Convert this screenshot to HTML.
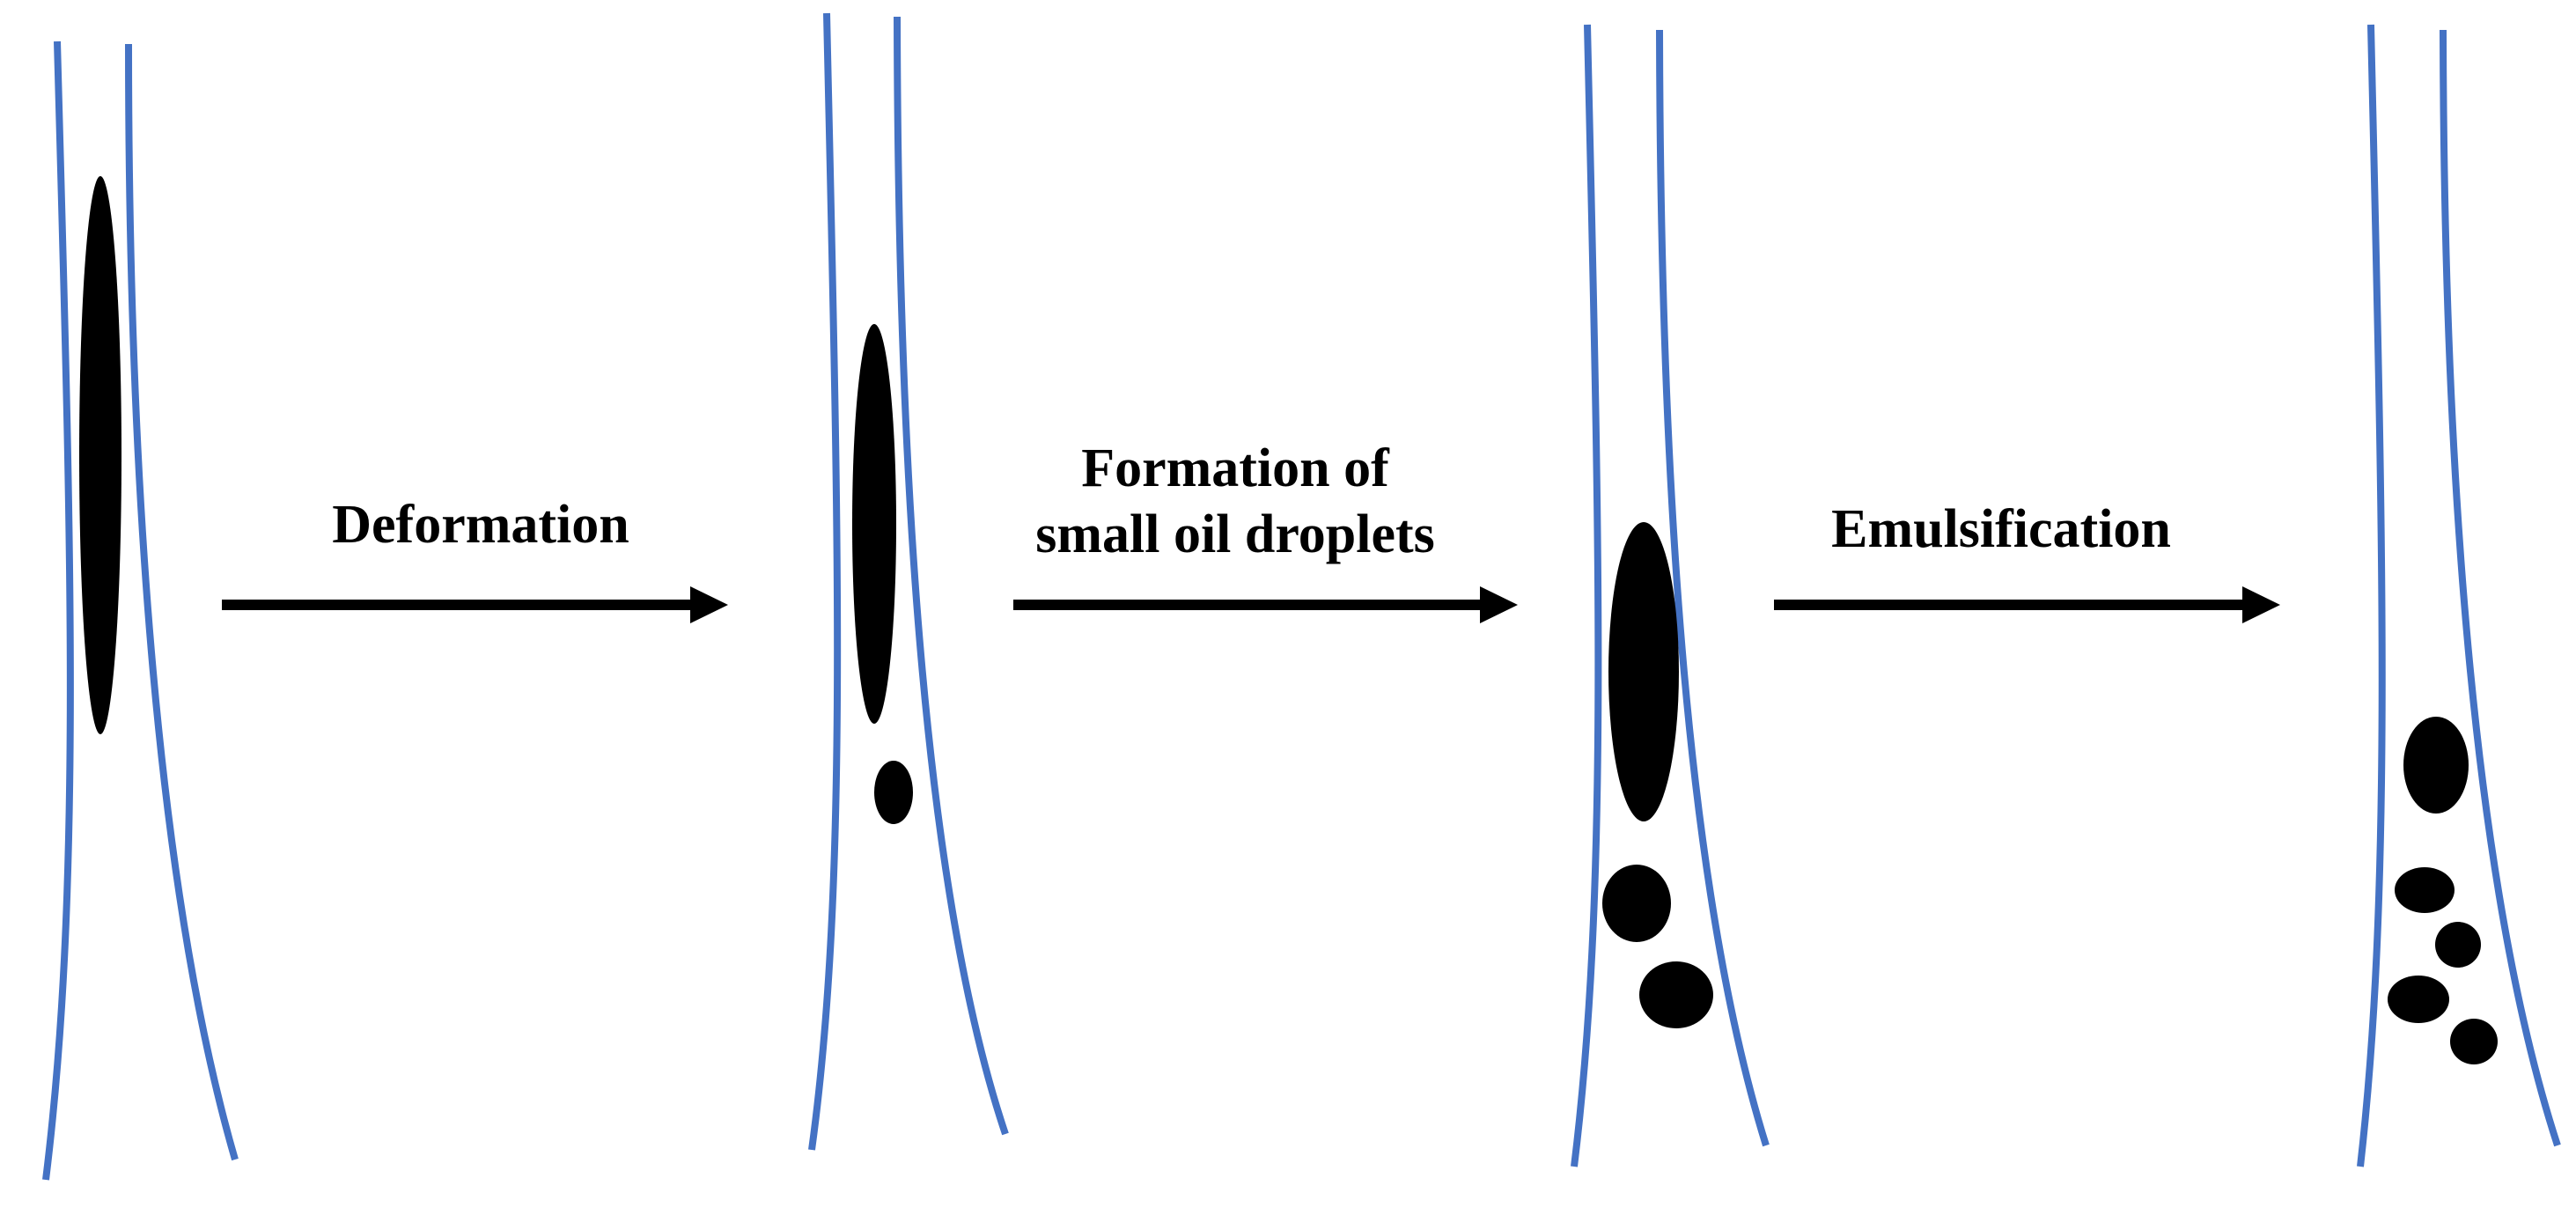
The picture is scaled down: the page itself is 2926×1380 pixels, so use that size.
<!DOCTYPE html>
<html><head><meta charset="utf-8"><style>html,body{margin:0;padding:0;background:#fff}svg{display:block}</style></head>
<body>
<svg width="2926" height="1380" viewBox="0 0 2926 1380" xmlns="http://www.w3.org/2000/svg">
<g fill="none" stroke="#4472C4" stroke-width="8">
<path d="M65,47 C80,600 94,1000 52,1340"/>
<path d="M146,50 C146,520 175,1000 267,1317"/>
<path d="M939,15 C952,600 964,1000 922,1306"/>
<path d="M1019,19 C1020,500 1045,1000 1142,1288"/>
<path d="M1803,28 C1816,600 1828,1000 1788,1325"/>
<path d="M1885,34 C1886,520 1912,1000 2006,1301"/>
<path d="M2693,28 C2706,600 2718,1000 2681,1325"/>
<path d="M2775,34 C2776,520 2807,1000 2905,1301"/>
</g>
<g fill="#000">
<ellipse cx="114" cy="517" rx="24" ry="317"/>
<ellipse cx="993" cy="595" rx="25" ry="227"/>
<ellipse cx="1015" cy="900" rx="22" ry="36"/>
<ellipse cx="1867" cy="763" rx="40" ry="170"/>
<ellipse cx="1859" cy="1026" rx="39" ry="44"/>
<ellipse cx="1904" cy="1130" rx="42" ry="38"/>
<ellipse cx="2767" cy="869" rx="37" ry="55"/>
<ellipse cx="2754" cy="1011" rx="34" ry="26"/>
<ellipse cx="2792" cy="1073" rx="26" ry="26"/>
<ellipse cx="2747" cy="1135" rx="35" ry="27"/>
<ellipse cx="2810" cy="1183" rx="27" ry="26"/>
</g>
<g stroke="#000" stroke-width="12">
<line x1="252" y1="687" x2="790" y2="687"/>
<line x1="1151" y1="687" x2="1690" y2="687"/>
<line x1="2015" y1="687" x2="2555" y2="687"/>
</g>
<g fill="#000">
<polygon points="784,666 827,687 784,708"/>
<polygon points="1681,666 1724,687 1681,708"/>
<polygon points="2547,666 2590,687 2547,708"/>
</g>
<g font-family="'Liberation Serif', serif" font-weight="bold" font-size="62" text-anchor="middle" fill="#000">
<text x="546" y="616">Deformation</text>
<text x="1403" y="552">Formation of</text>
<text x="1403" y="627">small oil droplets</text>
<text x="2273" y="621">Emulsification</text>
</g>
</svg>
</body></html>
